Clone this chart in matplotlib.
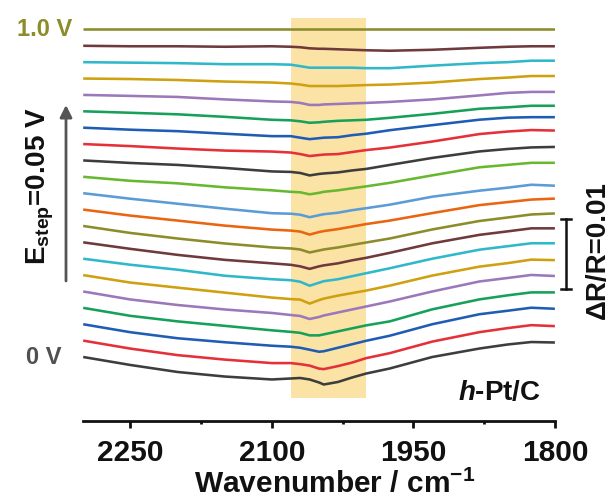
import numpy as np
import matplotlib
matplotlib.use("Agg")
import matplotlib.pyplot as plt
from matplotlib.transforms import blended_transform_factory

plt.rcParams['font.family'] = ['Liberation Sans', 'DejaVu Sans']
plt.rcParams['font.weight'] = 'bold'
plt.rcParams['axes.labelweight'] = 'bold'
plt.rcParams['mathtext.fontset'] = 'custom'
plt.rcParams['mathtext.rm'] = 'Liberation Sans:bold'
plt.rcParams['mathtext.bf'] = 'Liberation Sans:bold'
plt.rcParams['mathtext.it'] = 'Liberation Sans:bold:italic'

# ---------------- data ----------------
wavenumber = [2300, 2250, 2200, 2150, 2100, 2080, 2070, 2060, 2050, 2045,
              2030, 2015, 2000, 1975, 1930, 1880, 1850, 1825, 1800]

potentials = [0.00, 0.05, 0.10, 0.15, 0.20, 0.25, 0.30, 0.35, 0.40, 0.45, 0.50,
              0.55, 0.60, 0.65, 0.70, 0.75, 0.80, 0.85, 0.90, 0.95, 1.00]

# dR/R spectra (x 1e-3), relative to the value at 2300 cm-1
s_000 = [0, -1.14, -2.14, -2.79, -3.21, -3.07, -3.00, -3.21, -3.64, -3.93, -3.57, -2.93, -2.36, -1.64, 0.00, 1.21, 1.79, 2.14, 2.07]
s_005 = [0, -1.14, -2.07, -2.71, -3.21, -3.21, -3.36, -3.57, -4.00, -4.07, -3.64, -3.14, -2.50, -1.79, -0.14, 1.21, 1.79, 2.21, 2.07]
s_010 = [0, -1.14, -2.00, -2.57, -3.07, -3.21, -3.36, -3.64, -3.93, -3.86, -3.36, -2.86, -2.36, -1.64, 0.00, 1.43, 1.93, 2.36, 2.21]
s_015 = [0, -1.14, -1.93, -2.57, -3.21, -3.43, -3.57, -3.93, -3.93, -3.79, -3.36, -2.93, -2.50, -1.93, -0.21, 1.21, 1.79, 2.21, 2.21]
s_020 = [0, -1.14, -1.93, -2.57, -3.07, -3.36, -3.50, -3.93, -3.64, -3.43, -3.00, -2.57, -2.14, -1.43, 0.00, 1.43, 1.93, 2.36, 2.21]
s_025 = [0, -1.07, -1.79, -2.50, -3.21, -3.43, -3.50, -4.07, -3.57, -3.36, -2.93, -2.57, -2.21, -1.50, -0.07, 1.21, 1.71, 2.21, 2.14]
s_030 = [0, -0.86, -1.57, -2.43, -2.93, -3.07, -3.29, -3.86, -3.43, -3.21, -2.93, -2.50, -2.07, -1.36, 0.00, 1.29, 1.79, 2.21, 2.21]
s_035 = [0, -0.93, -1.79, -2.50, -3.00, -3.21, -3.43, -3.79, -3.43, -3.29, -3.00, -2.57, -2.21, -1.50, -0.14, 1.07, 1.57, 2.00, 2.00]
s_040 = [0, -1.00, -1.79, -2.50, -3.07, -3.21, -3.36, -3.79, -3.50, -3.36, -3.07, -2.71, -2.36, -1.79, -0.50, 0.71, 1.21, 1.64, 1.79]
s_045 = [0, -0.86, -1.57, -2.29, -2.86, -3.00, -3.14, -3.57, -3.21, -3.07, -2.79, -2.43, -2.07, -1.57, -0.50, 0.64, 1.07, 1.43, 1.57]
s_050 = [0, -0.79, -1.50, -2.21, -2.86, -2.93, -3.07, -3.43, -3.14, -3.00, -2.79, -2.43, -2.14, -1.64, -0.50, 0.36, 0.79, 1.21, 1.07]
s_055 = [0, -0.57, -0.93, -1.50, -1.93, -2.14, -2.21, -2.50, -2.29, -2.14, -1.93, -1.64, -1.36, -0.86, 0.21, 1.36, 1.71, 2.00, 2.00]
s_060 = [0, -0.36, -0.64, -1.07, -1.57, -1.64, -1.79, -2.14, -1.93, -1.86, -1.71, -1.43, -1.21, -0.64, 0.36, 1.29, 1.64, 1.86, 1.93]
s_065 = [0, -0.29, -0.64, -0.93, -1.07, -1.21, -1.43, -1.71, -1.57, -1.50, -1.43, -1.14, -0.86, -0.50, 0.36, 1.43, 1.79, 2.00, 1.93]
s_070 = [0, -0.29, -0.50, -0.86, -1.21, -1.21, -1.43, -1.64, -1.50, -1.43, -1.36, -1.07, -0.86, -0.36, 0.36, 1.14, 1.43, 1.50, 1.50]
s_075 = [0, -0.21, -0.43, -0.79, -1.21, -1.29, -1.43, -1.64, -1.57, -1.50, -1.36, -1.29, -1.21, -0.93, -0.36, 0.36, 0.57, 0.79, 0.79]
s_080 = [0, -0.14, -0.29, -0.64, -0.93, -1.00, -1.14, -1.43, -1.43, -1.36, -1.29, -1.21, -1.14, -1.00, -0.64, -0.07, 0.29, 0.43, 0.43]
s_085 = [0, -0.07, -0.21, -0.43, -0.57, -0.71, -0.86, -1.07, -1.07, -1.07, -1.07, -1.00, -0.93, -0.86, -0.57, -0.07, 0.14, 0.36, 0.36]
s_090 = [0, -0.07, -0.14, -0.29, -0.29, -0.36, -0.57, -0.79, -0.79, -0.79, -0.79, -0.79, -0.86, -0.86, -0.50, -0.14, 0.00, 0.21, 0.21]
s_095 = [0, -0.07, -0.07, -0.14, -0.07, -0.14, -0.21, -0.36, -0.43, -0.43, -0.50, -0.57, -0.64, -0.71, -0.57, -0.29, -0.14, -0.07, -0.07]
s_100 = [0, 0, 0, 0, 0, 0, 0, 0, 0, 0, 0, 0, 0, 0, 0, 0, 0, 0, 0]

spectra = [s_000, s_005, s_010, s_015, s_020, s_025, s_030, s_035, s_040, s_045, s_050,
           s_055, s_060, s_065, s_070, s_075, s_080, s_085, s_090, s_095, s_100]

band_range = [2080, 2000]
xticks = [2250, 2100, 1950, 1800]
xticks_minor = [2175, 2025, 1875]
scale_bar = 0.01

# ---------------- style ----------------
palette = ['#3d3d3d', '#e5303a', '#1f5db5', '#17a05a', '#9b78b9', '#cfa010',
           '#2fb8c9', '#6e3a3c', '#8c8c2b', '#ea650f', '#5b9bd6', '#68b82f']
OFFSET = 2.34e-3
W, H = 611, 499
PX = 0.01 / 70.0          # dR/R per pixel
base_px = 357.0           # pixel row of the 0 V trace

fig = plt.figure(figsize=(W / 100, H / 100), dpi=100)
ax_left, ax_right, ax_bottom, ax_top = 83.2, 554.9, 420.5, 15.0
ax = fig.add_axes([ax_left / W, 1 - ax_bottom / H, (ax_right - ax_left) / W,
                   (ax_bottom - ax_top) / H])
ax.set_xlim(2300, 1800)
ax.set_ylim(-(ax_bottom - base_px) * PX, (base_px - ax_top) * PX)

# highlight band
band_lo = -(398 - base_px) * PX
band_hi = (base_px - 18) * PX
ax.fill_between(band_range, [band_lo] * 2, [band_hi] * 2, color='#fbe3a5',
                lw=0, zorder=0)

wn = np.array(wavenumber)
for i, s in enumerate(spectra):
    y = np.array(s) * 1e-3 + i * OFFSET
    ax.plot(wn, y, color=palette[i % len(palette)], lw=1.85, zorder=2,
            solid_joinstyle='round', solid_capstyle='butt')

for sp in ['left', 'right', 'top']:
    ax.spines[sp].set_visible(False)
ax.spines['bottom'].set_linewidth(2.0)
ax.spines['bottom'].set_color('#111111')
ax.set_yticks([])
ax.set_xticks(xticks)
ax.set_xticks(xticks_minor, minor=True)
ax.tick_params(axis='x', which='major', direction='out', length=5, width=2.0,
               labelsize=21.5, pad=8, color='#111111', labelcolor='#111111')
ax.tick_params(axis='x', which='minor', direction='out', length=2.5, width=2.0,
               color='#111111')

fig.text(335 / W, 1 - 493 / H, r'Wavenumber / cm$^{\mathrm{-1}}$', fontsize=21.5,
         ha='center', va='baseline', color='#111111')

# labels
fig.text(72 / W, 1 - 29 / H, '1.0 V', color='#8c8c2b', fontsize=17,
         ha='right', va='center')
fig.text(62 / W, 1 - 357 / H, '0 V', color='#505050', fontsize=17,
         ha='right', va='center')
fig.text(40 / W, 1 - 186 / H, r'E$_{\mathrm{step}}$=0.05 V', rotation=90,
         fontsize=20, ha='center', va='center', color='#111111')
ax.annotate('', xy=(66 / W, 1 - 105 / H), xytext=(66 / W, 1 - 281 / H),
            xycoords='figure fraction', textcoords='figure fraction',
            arrowprops=dict(arrowstyle='-|>', lw=2.0, color='#555555',
                            mutation_scale=18, shrinkA=0, shrinkB=0))

# scale bar
tr = blended_transform_factory(fig.transFigure, ax.transData)
sb_bottom = (base_px - 289) * PX
xb = 566 / W
cap = 5 / W
ax.plot([xb, xb], [sb_bottom, sb_bottom + scale_bar], color='#111111', lw=1.8,
        transform=tr, clip_on=False)
for yy in [sb_bottom, sb_bottom + scale_bar]:
    ax.plot([xb - cap, xb + cap], [yy, yy], color='#111111', lw=1.8,
            transform=tr, clip_on=False)
fig.text(598 / W, 1 - 250 / H, '\u0394R/R=0.01', rotation=90, fontsize=20,
         ha='center', va='center', color='#111111')

fig.text(541 / W, 1 - 393 / H, r'$\mathit{h}$-Pt/C', fontsize=20,
         ha='right', va='center', color='#111111')

fig.savefig('out.png', dpi=100)
